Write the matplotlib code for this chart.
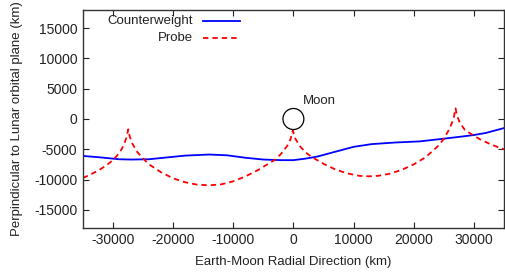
import matplotlib.pyplot as plt
from matplotlib.patches import Circle
from matplotlib.lines import Line2D

plt.rcParams['font.family'] = ['Liberation Sans', 'DejaVu Sans']
plt.rcParams['axes.unicode_minus'] = False

# counterweight track (km)
cw_x = [-35000, -32000, -29000, -27000, -24000, -21000, -18000, -14000, -11000,
        -8000, -5000, -2000, 0, 2000, 4000, 7000, 10000, 13000, 17000, 21000,
        25000, 28000, 30000, 32000, 35000]
cw_y = [-6100, -6350, -6650, -6700, -6650, -6350, -6050, -5870, -6000,
        -6400, -6700, -6800, -6800, -6550, -6200, -5400, -4600, -4150, -3880, -3700,
        -3250, -2900, -2650, -2300, -1500]

# probe track (km)
probe_x = [-35000, -34000, -33000, -32000, -31000, -30000, -29000, -28500, -28000, -27700,
           -27440, -27200, -26800, -26000, -25000, -24000, -22000, -20000, -18000, -16000,
           -14000, -12000, -10000, -8000, -6000, -4000, -3000, -2000, -1000, -500,
           -100, 300, 1000, 2000, 3000, 5000, 7000, 9000, 11000, 12500,
           14000, 16000, 18000, 20000, 22000, 24000, 25000, 26000, 26600, 26950,
           27200, 27700, 28500, 29900, 31000, 32500, 34000, 35000]
probe_y = [-9750, -9300, -8800, -8250, -7600, -6800, -5700, -4900, -3800, -2900,
           -1700, -2900, -4000, -5400, -6500, -7500, -8800, -9800, -10450, -10850,
           -10960, -10800, -10300, -9500, -8500, -7300, -6700, -5700, -4400, -3400,
           -1900, -3200, -4400, -5500, -6250, -7400, -8350, -9000, -9400, -9470,
           -9400, -9050, -8400, -7500, -6300, -4500, -3300, -1500, 0, 1770,
           500, -700, -1800, -2700, -3350, -4050, -4650, -5000]

moon_radius = 1737

fig = plt.figure(figsize=(5.05, 2.72), dpi=100)
ax = fig.add_axes([0.164, 0.162, 0.834, 0.801])

ax.plot(cw_x, cw_y, color='#0000ff', lw=1.3)
ax.plot(probe_x, probe_y, color='#ff0000', lw=1.3, linestyle=(0, (3, 2.2)))

ax.add_patch(Circle((0, 0), moon_radius, fill=False, ec='black', lw=0.9))
ax.text(1500, 3000, 'Moon', fontsize=9.5, va='center', ha='left', color='#222222')

ax.set_xlim(-35000, 35000)
ax.set_ylim(-18000, 18000)
ax.set_xticks(range(-30000, 30001, 10000))
ax.set_yticks(range(-15000, 15001, 5000))
ax.tick_params(direction='in', top=True, right=True, length=4, width=0.8,
               labelsize=10, colors='#222222', pad=4)
for s in ax.spines.values():
    s.set_linewidth(1.0)
    s.set_color('#333333')

ax.set_xlabel('Earth-Moon Radial Direction (km)', fontsize=9.5, color='#222222', labelpad=6)
ax.set_ylabel('Perpindicular to Lunar orbital plane (km)', fontsize=9.5, color='#222222', labelpad=8)

# gnuplot-style key: right-aligned text, sample after it
keys = [('Counterweight', dict(color='#0000ff', lw=1.3)),
        ('Probe', dict(color='#ff0000', lw=1.3, linestyle=(0, (3, 2.2))))]
for i, (lab, style) in enumerate(keys):
    yk = 0.95 - i * 0.08
    ax.text(0.262, yk, lab, transform=ax.transAxes, ha='right', va='center',
            fontsize=9.5, color='#222222')
    ax.add_line(Line2D([0.285, 0.373], [yk, yk], transform=ax.transAxes, **style))

fig.savefig('out.png', dpi=100)
